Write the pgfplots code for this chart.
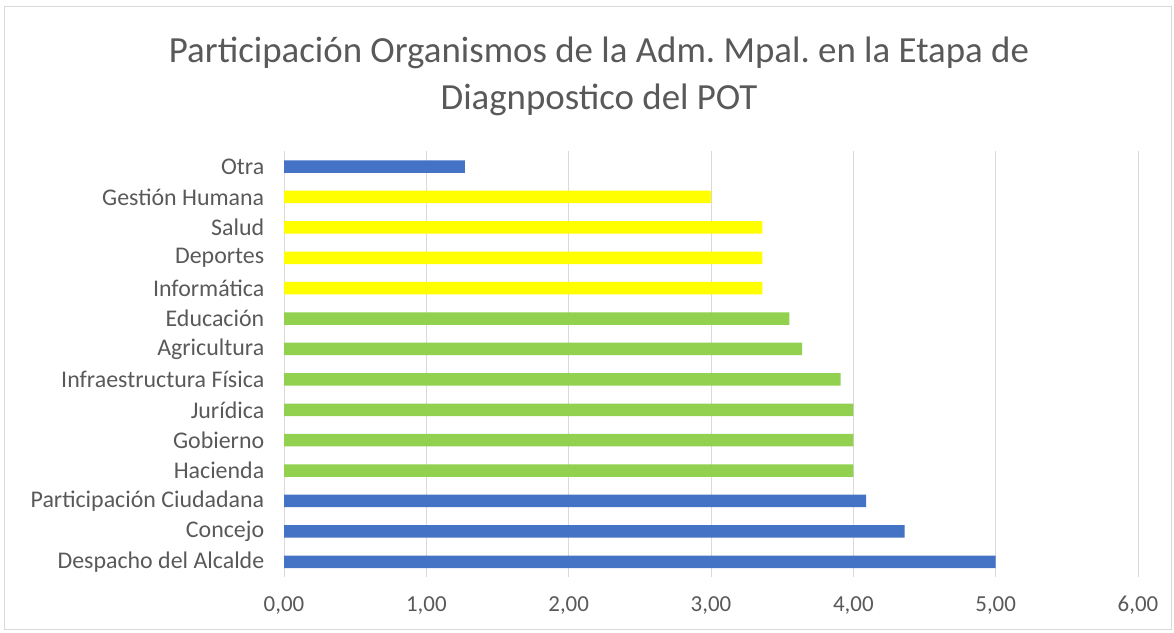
\documentclass[border=0pt]{standalone}
\usepackage{pgfplots}
\pgfplotsset{compat=1.18}
\usepackage{fontspec}
\setmainfont{Carlito}
\frenchspacing
\definecolor{cblue}{HTML}{4472C4}
\definecolor{cgreen}{HTML}{92D050}
\definecolor{cyellow}{HTML}{FFFF00}
\definecolor{textgray}{HTML}{595959}
\definecolor{gridgray}{HTML}{D9D9D9}
\begin{document}
\begin{tikzpicture}[x=1bp,y=1bp]
\path[use as bounding box] (0,0) rectangle (1174,633);
\draw[color=gridgray, line width=1bp] (4,3) rectangle (1171,626);
\node[text=textgray, font=\fontsize{37}{44}\selectfont, anchor=base, inner sep=0pt] at (599,570) {Participación Organismos de la Adm. Mpal. en la Etapa de};
\node[text=textgray, font=\fontsize{37}{44}\selectfont, anchor=base, inner sep=0pt] at (599,523) {Diagnpostico del POT};
\begin{axis}[
  at={(284bp,56bp)}, anchor=south west,
  scale only axis, width=854bp, height=425.6bp,
  xmin=0, xmax=6, ymin=-0.5, ymax=13.5,
  xtick={0,1,2,3,4,5,6}, ytick={0,...,13},
  yticklabels={Despacho del Alcalde,Concejo,Participación Ciudadana,Hacienda,Gobierno,Jurídica,Infraestructura Física,Agricultura,Educación,Informática,Deportes,Salud,Gestión Humana,Otra},
  xmajorgrids, major grid style={draw=gridgray, line width=1bp},
  axis line style={draw=none}, tick style={draw=none},
  xbar, bar width=12.5bp, bar shift=0pt,
  ticklabel style={text=textgray, font=\fontsize{23}{27}\selectfont},
  xticklabel style={yshift=-16bp, /pgf/number format/fixed, /pgf/number format/fixed zerofill, /pgf/number format/precision=2, /pgf/number format/use comma, /pgf/number format/assume math mode=true},
  yticklabel style={xshift=-12bp, font=\fontsize{24}{28}\selectfont},
]
\addplot[fill=cblue, draw=none] coordinates {(5.00,0) (4.36,1) (4.09,2) (1.27,13)};
\addplot[fill=cgreen, draw=none] coordinates {(4.00,3) (4.00,4) (4.00,5) (3.91,6) (3.64,7) (3.55,8)};
\addplot[fill=cyellow, draw=none] coordinates {(3.36,9) (3.36,10) (3.36,11) (3.00,12)};
\end{axis}
\end{tikzpicture}
\end{document}
